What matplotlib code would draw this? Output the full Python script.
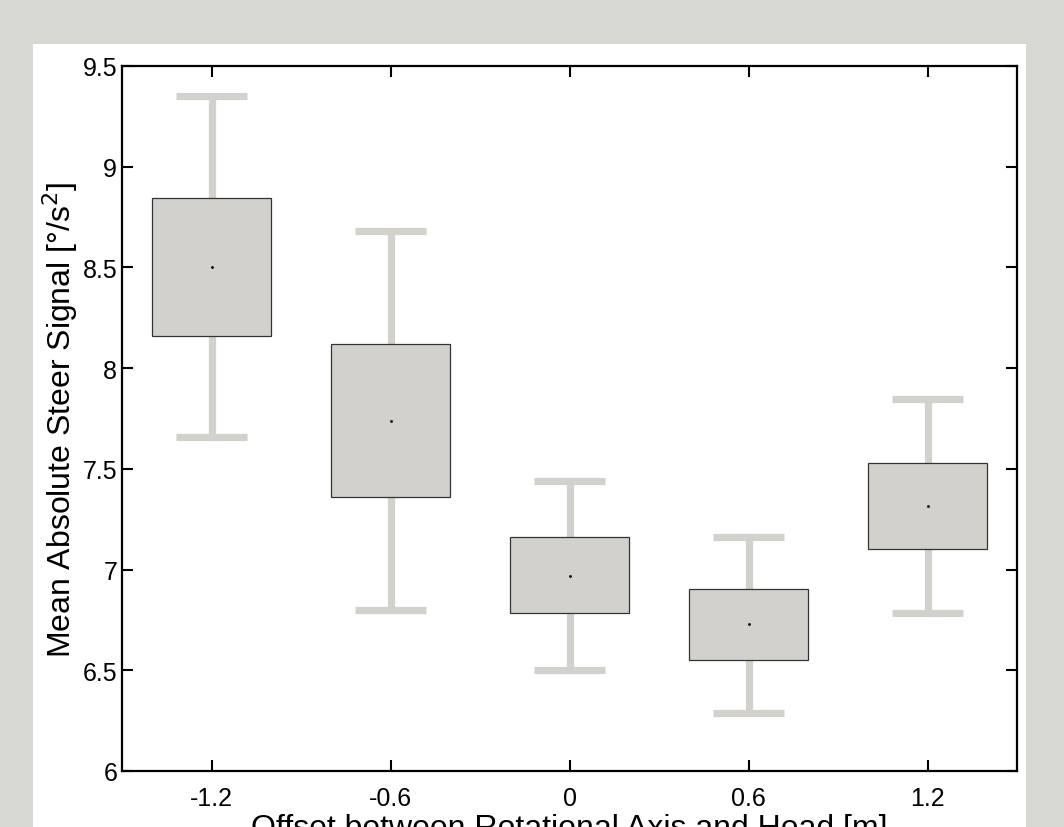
import matplotlib.pyplot as plt
from matplotlib.patches import Rectangle

offsets = [-1.2, -0.6, 0, 0.6, 1.2]
means = [8.50, 7.74, 6.97, 6.73, 7.315]
box_hi = [8.845, 8.12, 7.16, 6.905, 7.53]
box_lo = [8.16, 7.36, 6.785, 6.55, 7.10]
whisk_hi = [9.35, 8.68, 7.44, 7.16, 7.845]
whisk_lo = [7.66, 6.80, 6.50, 6.29, 6.785]
xtick_labels = ['-1.2', '-0.6', '0', '0.6', '1.2']
yticks = [6, 6.5, 7, 7.5, 8, 8.5, 9, 9.5]

plt.rcParams['font.family'] = ['Liberation Sans', 'DejaVu Sans']
grey = '#d3d1cb'

fig = plt.figure(figsize=(10.64, 8.28), dpi=100, facecolor='#d8d8d3')
bg = Rectangle((33 / 1064, 0), (1026 - 33) / 1064, (828 - 45) / 828,
               transform=fig.transFigure, facecolor='white', edgecolor='none')
bg.set_zorder(-10)
fig.add_artist(bg)
ax = fig.add_axes([122 / 1064, 1 - 772 / 828, (1017 - 122) / 1064, (772 - 67) / 828])
ax.set_zorder(1)
ax.set_facecolor('white')

box_w = 0.4
cap_w = 0.24
for x, m, bh, bl, wh, wl in zip(offsets, means, box_hi, box_lo, whisk_hi, whisk_lo):
    ax.plot([x, x], [bh, wh], color=grey, lw=5.2, solid_capstyle='butt', zorder=1)
    ax.plot([x, x], [wl, bl], color=grey, lw=5.2, solid_capstyle='butt', zorder=1)
    ax.plot([x - cap_w / 2, x + cap_w / 2], [wh, wh], color=grey, lw=5.2,
            solid_capstyle='butt', zorder=1)
    ax.plot([x - cap_w / 2, x + cap_w / 2], [wl, wl], color=grey, lw=5.2,
            solid_capstyle='butt', zorder=1)
    ax.add_patch(Rectangle((x - box_w / 2, bl), box_w, bh - bl, facecolor=grey,
                           edgecolor='#333333', lw=0.9, zorder=2))
    ax.plot(x, m, marker='.', color='black', markersize=2, zorder=3)

ax.set_xlim(-1.5, 1.5)
ax.set_ylim(6, 9.5)
ax.set_xticks(offsets)
ax.set_xticklabels(xtick_labels)
ax.set_yticks(yticks)
ax.set_yticklabels(['6', '6.5', '7', '7.5', '8', '8.5', '9', '9.5'])
ax.tick_params(direction='in', length=8, width=1.5, labelsize=18, top=True, right=True)
ax.tick_params(axis='x', pad=10.5)
ax.tick_params(axis='y', pad=3.5)
for s in ax.spines.values():
    s.set_linewidth(1.6)
ax.set_xlabel('Offset between Rotational Axis and Head [m]', fontsize=23, labelpad=2.5)
ax.set_ylabel('Mean Absolute Steer Signal [°/s$^2$]', fontsize=23, labelpad=2)

fig.savefig('out.png', dpi=100, facecolor=fig.get_facecolor())
